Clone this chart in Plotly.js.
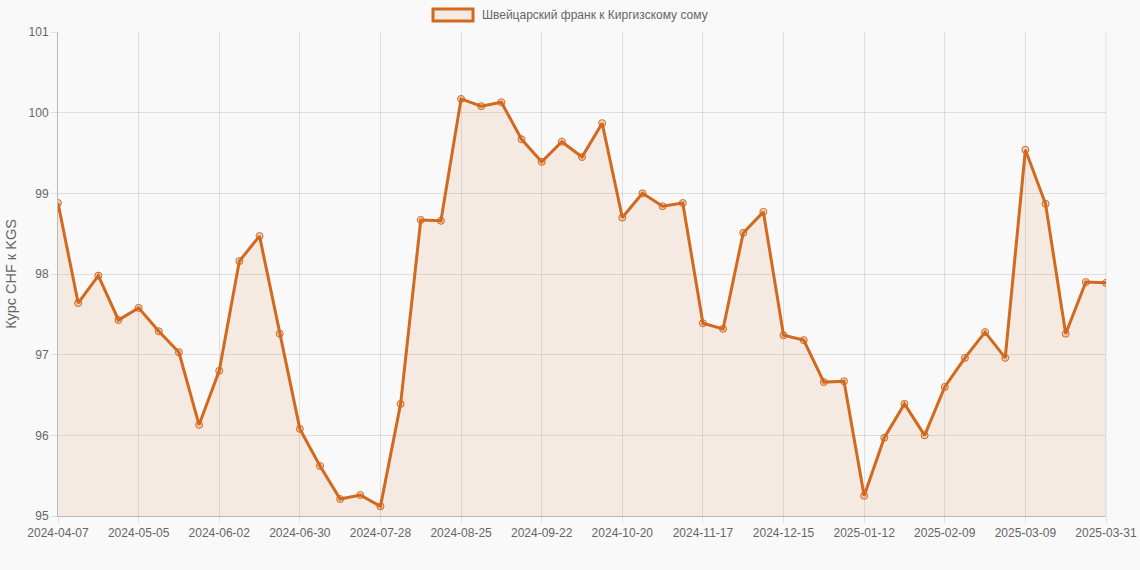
<!DOCTYPE html>
<html>
<head>
<meta charset="utf-8">
<script src="https://cdn.plot.ly/plotly-3.0.1.min.js"></script>
<style>
html,body{margin:0;padding:0;background:#f9f9f9;}
#chart{width:1140px;height:570px;}
</style>
</head>
<body>
<div id="chart"></div>
<script>
const startDate = "2024-04-07";
const lastLabel = "2025-03-31";
const seriesName = "Швейцарский франк к Киргизскому сому";
const yTitle = "Курс CHF к KGS";
const rates = [
  98.88, 97.64, 97.98, 97.43, 97.58, 97.29, 97.03, 96.13, 96.80, 98.16,
  98.47, 97.26, 96.08, 95.62, 95.21, 95.26, 95.12, 96.39, 98.67, 98.66,
  100.17, 100.08, 100.13, 99.67, 99.39, 99.64, 99.45, 99.87, 98.70, 99.00,
  98.84, 98.88, 97.39, 97.32, 98.51, 98.77, 97.24, 97.18, 96.66, 96.67,
  95.25, 95.97, 96.39, 96.00, 96.60, 96.96, 97.28, 96.96, 99.54, 98.87,
  97.26, 97.90, 97.89
];
const yTicks = [95, 96, 97, 98, 99, 100, 101];

// weekly labels, last one is the final date
function addDays(s, d){
  const t = new Date(s + "T00:00:00Z");
  t.setUTCDate(t.getUTCDate() + d);
  return t.toISOString().slice(0,10);
}
const dates = rates.map((v,i)=> i === rates.length-1 ? lastLabel : addDays(startDate, 7*i));
const tickDates = dates.filter((d,i)=> i % 4 === 0 || i === dates.length-1);

const lineColor = "rgb(210,105,30)";
const trace = {
  x: dates, y: rates, type: "scatter", mode: "lines+markers",
  name: seriesName,
  line: {color: lineColor, width: 3},
  marker: {size: 7, color: "rgba(210,105,30,0.25)", line: {color: lineColor, width: 1}},
  fill: "tozeroy", fillcolor: "rgba(210,105,30,0.1)",
  showlegend: false, hoverinfo: "x+y"
};

const gridC = "rgba(0,0,0,0.1)";
const layout = {
  width: 1140, height: 570,
  margin: {l: 58, r: 34, t: 32, b: 54},
  paper_bgcolor: "#f9f9f9", plot_bgcolor: "#f9f9f9",
  font: {family: "Liberation Sans, Arial, sans-serif", size: 12, color: "#666"},
  xaxis: {
    type: "category", range: [0, dates.length-1],
    tickmode: "array", tickvals: tickDates, ticktext: tickDates,
    showgrid: true, gridcolor: gridC, gridwidth: 1,
    ticks: "outside", ticklen: 6, tickcolor: gridC,
    showline: true, linecolor: "rgba(0,0,0,0.25)", linewidth: 1,
    zeroline: false, tickangle: 0, automargin: false
  },
  yaxis: {
    range: [95, 101], tickvals: yTicks,
    showgrid: true, gridcolor: gridC, gridwidth: 1,
    ticks: "outside", ticklen: 6, tickcolor: gridC,
    showline: true, linecolor: "rgba(0,0,0,0.25)", linewidth: 1,
    zeroline: false, automargin: false,
    title: {text: yTitle, font: {size: 14.5, color: "#666"}, standoff: 8}
  },
  shapes: [
    {type: "line", xref: "paper", yref: "paper", x0: 1, x1: 1, y0: 0, y1: 1,
     line: {color: gridC, width: 1}},
    {type: "rect", xref: "paper", yref: "paper",
     x0: (433-58)/1048, x1: (473-58)/1048, y0: 1 + (32-21)/484, y1: 1 + (32-9)/484,
     line: {color: lineColor, width: 3}, fillcolor: "rgba(210,105,30,0.1)"}
  ],
  annotations: [
    {xref: "paper", yref: "paper", x: (480-58)/1048, y: 1 + (32-15)/484,
     xanchor: "left", yanchor: "middle", showarrow: false,
     text: seriesName, font: {size: 12, color: "#666"}}
  ]
};
Plotly.newPlot("chart", [trace], layout, {displayModeBar: false, responsive: false});
</script>
</body>
</html>
